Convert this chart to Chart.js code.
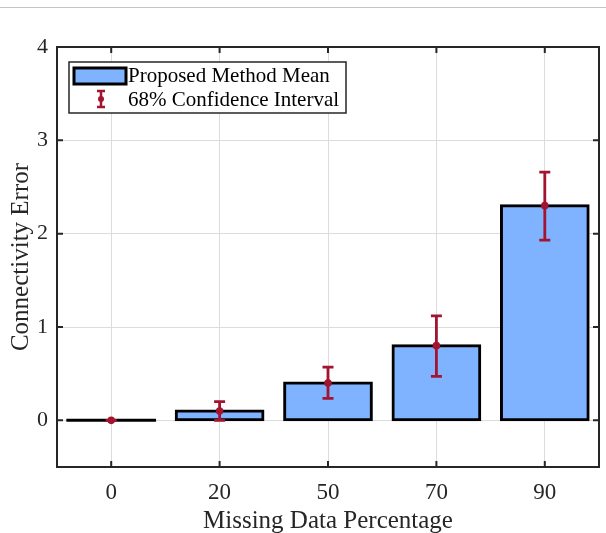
<!DOCTYPE html>
<html><head><meta charset="utf-8">
<script src="https://cdn.jsdelivr.net/npm/chart.js@4.4.1/dist/chart.umd.min.js"></script>
<style>
html,body{margin:0;padding:0;background:#fff;}
#wrap{position:relative;width:606px;height:533px;}
#topline{position:absolute;left:0;top:7px;width:606px;height:0;border-top:1px solid #c4c4c4;}
canvas{position:absolute;left:0;top:0;}
</style></head>
<body>
<div id="wrap"><div id="topline"></div><canvas id="c" width="606" height="533"></canvas></div>
<script>
const categories = ['0','20','50','70','90'];
const meanValues = [0, 0.1, 0.4, 0.8, 2.3];
const ciLow = [0, 0.0, 0.235, 0.47, 1.93];
const ciHigh = [0, 0.2, 0.57, 1.12, 2.66];
const yTickValues = [0, 1, 2, 3, 4];
const yMin = -0.5, yMax = 4;
const labels = {x:'Missing Data Percentage', y:'Connectivity Error', bar:'Proposed Method Mean', ci:'68% Confidence Interval'};

const RED = '#A2142F', BLUE = 'rgb(128,179,255)', AX = '#262626';
const FONT = '"Liberation Serif", "Times New Roman", serif';

const overlay = {
  id:'overlay',
  afterDatasetsDraw(chart){
    const ctx = chart.ctx, xs = chart.scales.x, ys = chart.scales.y, a = chart.chartArea;
    const meta = chart.getDatasetMeta(0);
    ctx.save();
    // zero-height bars drawn as outline line
    meta.data.forEach((el,i)=>{
      if (meanValues[i] === 0){
        ctx.strokeStyle = '#000'; ctx.lineWidth = 3;
        ctx.beginPath(); ctx.moveTo(el.x - el.width/2 - 1.5, el.y); ctx.lineTo(el.x + el.width/2 + 1.5, el.y); ctx.stroke();
      }
    });
    // error bars
    meanValues.forEach((v,i)=>{
      const x = xs.getPixelForValue(i);
      const yl = ys.getPixelForValue(ciLow[i]), yh = ys.getPixelForValue(ciHigh[i]), ym = ys.getPixelForValue(v);
      ctx.strokeStyle = RED; ctx.fillStyle = RED; ctx.lineWidth = 2.8;
      ctx.beginPath();
      ctx.moveTo(x, yl); ctx.lineTo(x, yh);
      ctx.moveTo(x-5.5, yl); ctx.lineTo(x+5.5, yl);
      ctx.moveTo(x-5.5, yh); ctx.lineTo(x+5.5, yh);
      ctx.stroke();
      ctx.beginPath(); ctx.arc(x, ym, 3.8, 0, Math.PI*2); ctx.fill();
    });
    // box
    ctx.strokeStyle = AX; ctx.lineWidth = 2;
    ctx.strokeRect(a.left, a.top, a.right-a.left, a.bottom-a.top);
    // inward ticks
    ctx.lineWidth = 2; ctx.beginPath();
    categories.forEach((c,i)=>{
      const x = xs.getPixelForValue(i);
      ctx.moveTo(x, a.bottom); ctx.lineTo(x, a.bottom-6);
      ctx.moveTo(x, a.top); ctx.lineTo(x, a.top+6);
    });
    yTickValues.forEach(t=>{
      const y = ys.getPixelForValue(t);
      ctx.moveTo(a.left, y); ctx.lineTo(a.left+6, y);
      ctx.moveTo(a.right, y); ctx.lineTo(a.right-6, y);
    });
    ctx.stroke();
    // legend
    const lx = 69, ly = 62, lw = 277, lh = 51;
    ctx.fillStyle = '#fff'; ctx.fillRect(lx, ly, lw, lh);
    ctx.strokeStyle = AX; ctx.lineWidth = 1.5; ctx.strokeRect(lx, ly, lw, lh);
    ctx.fillStyle = BLUE; ctx.fillRect(74, 68, 52, 16);
    ctx.strokeStyle = '#000'; ctx.lineWidth = 3; ctx.strokeRect(74, 68, 52, 16);
    ctx.strokeStyle = RED; ctx.fillStyle = RED; ctx.lineWidth = 2.5;
    ctx.beginPath(); ctx.moveTo(101, 91); ctx.lineTo(101, 107);
    ctx.moveTo(97, 91); ctx.lineTo(105, 91); ctx.moveTo(97, 107); ctx.lineTo(105, 107); ctx.stroke();
    ctx.beginPath(); ctx.arc(101, 99, 3, 0, Math.PI*2); ctx.fill();
    ctx.fillStyle = '#000'; ctx.font = '21px ' + FONT; ctx.textBaseline = 'middle'; ctx.textAlign = 'left';
    ctx.fillText(labels.bar, 128, 76);
    ctx.fillText(labels.ci, 128, 100);
    ctx.restore();
  }
};

new Chart(document.getElementById('c'), {
  type:'bar',
  data:{ labels: categories, datasets:[{ label: labels.bar, data: meanValues, backgroundColor: BLUE, borderColor:'#000', borderWidth:3, borderSkipped:false, inflateAmount:1.5, barPercentage:0.8, categoryPercentage:1 }]},
  options:{
    responsive:false, animation:false, devicePixelRatio:1,
    layout:{ padding:{ top:47, right:7, left:0, bottom:0 } },
    plugins:{ legend:{display:false}, tooltip:{enabled:false} },
    scales:{
      x:{
        afterFit(s){ s.height = 66; },
        grid:{ color:'#dcdcdc', lineWidth:1, drawTicks:false, offset:false },
        border:{ display:false },
        ticks:{ color:AX, font:{family:FONT, size:23}, padding:12 },
        title:{ display:true, text:labels.x, color:AX, font:{family:FONT, size:25, lineHeight:0.9}, padding:{top:0,bottom:0} }
      },
      y:{
        min:yMin, max:yMax,
        afterFit(s){ s.width = 57; },
        afterBuildTicks(s){ s.ticks = yTickValues.map(v=>({value:v})); },
        grid:{ color:'#dcdcdc', lineWidth:1, drawTicks:false },
        border:{ display:false },
        ticks:{ color:AX, font:{family:FONT, size:22}, padding:9 },
        title:{ display:true, text:labels.y, color:AX, font:{family:FONT, size:25}, padding:{top:6,bottom:0} }
      }
    }
  },
  plugins:[overlay]
});
</script>
</body></html>
